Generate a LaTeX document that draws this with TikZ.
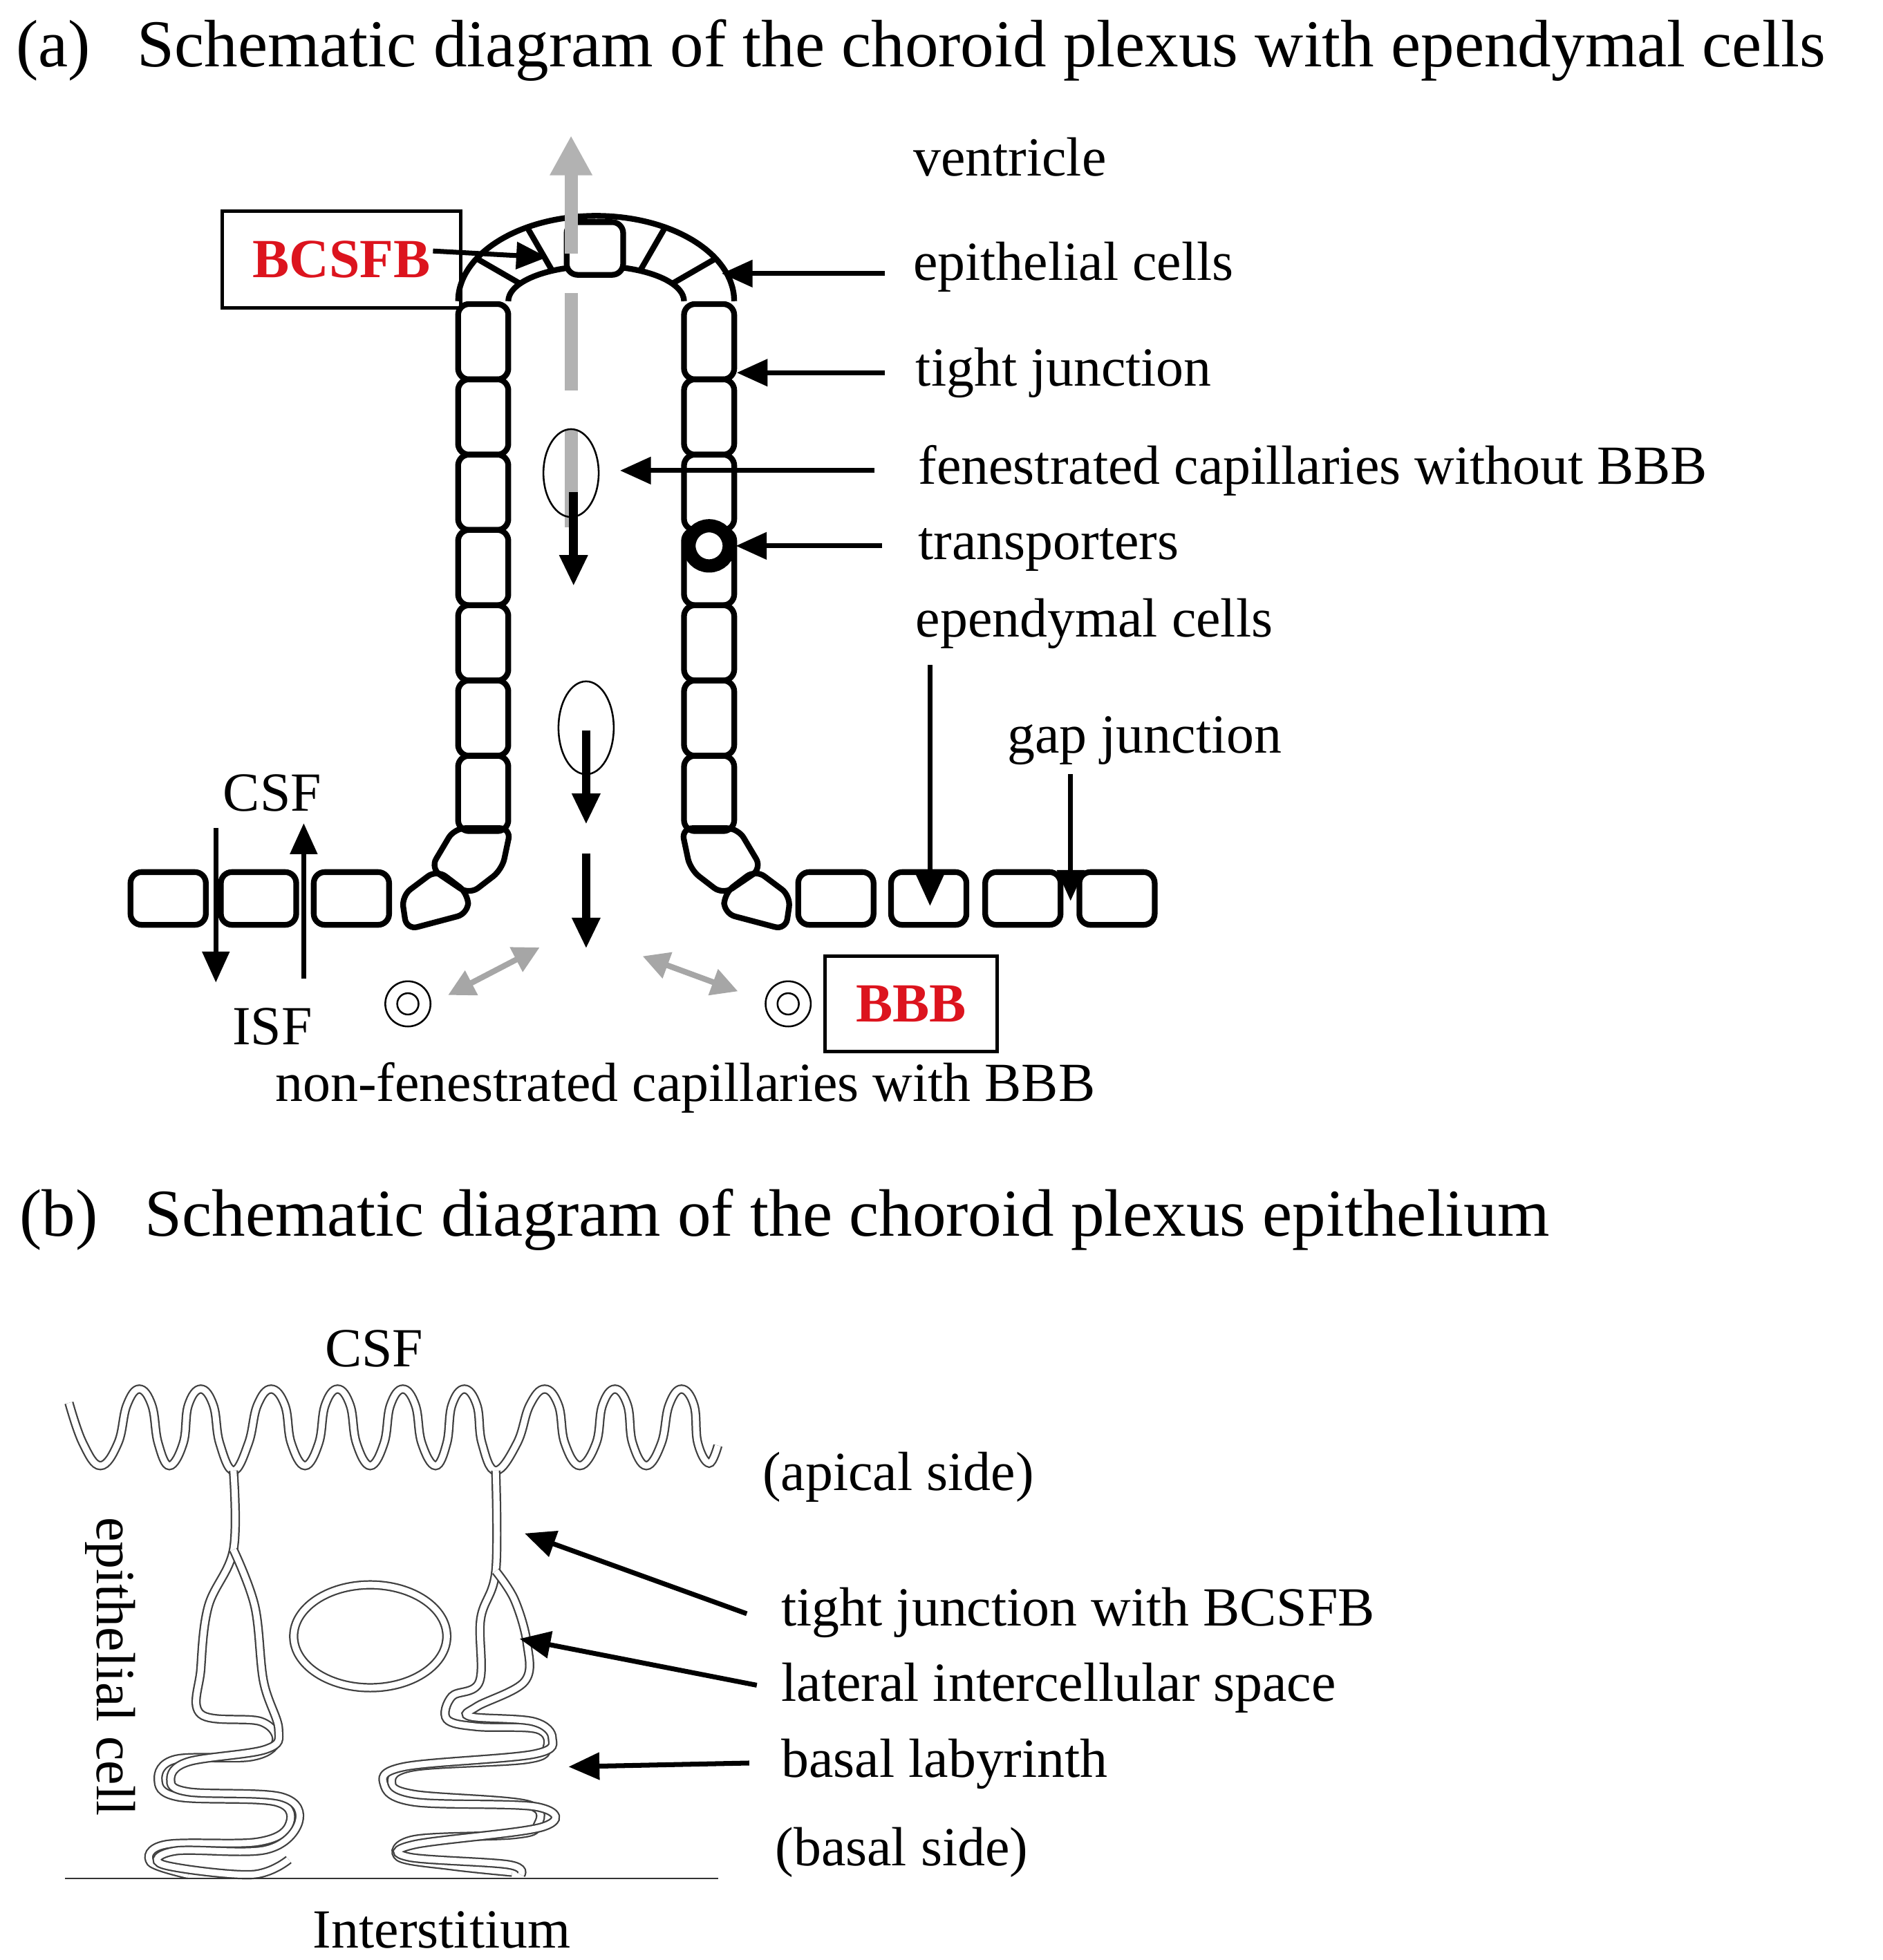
\documentclass[tikz,border=0pt]{standalone}
\usepackage{fontspec}
\setmainfont{Liberation Serif}
\usetikzlibrary{arrows.meta,positioning,shapes.geometric}
\definecolor{bred}{RGB}{220,20,30}
\tikzset{
  cell/.style={draw,line width=1.3pt,rounded corners=2.5pt},
  lab/.style={anchor=west,font=\fontsize{12.5}{14}\selectfont,inner sep=0pt},
  ttl/.style={anchor=west,font=\fontsize{15.2}{17}\selectfont,inner sep=0pt},
  arr/.style={-{Triangle[length=7pt,width=6pt]},line width=1.1pt},
  garr/.style={{Triangle[length=6pt,width=6pt]}-{Triangle[length=6pt,width=6pt]},line width=1.3pt,gray!70},
  memb/.style={draw=black!75,double=white,double distance=1.4pt,line width=0.35pt},
}
\begin{document}
\begin{tikzpicture}[x=0.01cm,y=-0.01cm]
\useasboundingbox (0,0) rectangle (1500,1562);

% (a) titles and labels
\node[ttl] (ta) at (12,40) {(a)\hspace{0.7em}Schematic diagram of the choroid plexus with ependymal cells};
\node[lab] (ventr) at (727,125) {ventricle};
\node[lab] (epi) at (727,213) {epithelial cells};
\node[lab] (tj) at (729,297) {tight junction};
\node[lab] (fen) at (731,375) {fenestrated capillaries without BBB};
\node[lab] (trans) at (731,438) {transporters};
\node[lab] (epend) at (729,497) {ependymal cells};
\node[lab] (gap) at (802,590) {gap junction};
\node[lab,anchor=center] (csf) at (217,632) {CSF};
\node[lab,anchor=center] (isf) at (217,818) {ISF};
\node[lab,anchor=center] (nonfen) at (546,867) {non-fenestrated capillaries with BBB};

% columns of cells
\foreach \i in {0,...,6}{
  \node[cell,minimum width=0.4cm,minimum height=0.6cm,anchor=north] (lc\i) at (385,240+\i*60) {};
  \node[cell,minimum width=0.4cm,minimum height=0.6cm,anchor=north] (rc\i) at (565,240+\i*60) {};
}
% arch
\draw[line width=1.3pt] plot[smooth,samples=40,domain=180:0] ({475+110*cos(\x)},{240-68*sin(\x)});
\draw[line width=1.3pt] plot[smooth,samples=40,domain=180:0] ({475+70*cos(\x)},{240-28*sin(\x)});
\foreach \a in {150,120,60,30}
  \draw[line width=1.3pt] ({475+70*cos(\a)},{240-28*sin(\a)}) -- ({475+110*cos(\a)},{240-68*sin(\a)});
\node[cell,fill=white,minimum width=0.45cm,minimum height=0.42cm] (topc) at (474,198) {};

% bends
\draw[cell] (362,660) -- (407,660) -- (400,693) -- (374,713) -- (343,692) -- cycle;
\draw[cell] (320,714) -- (348,693) -- (373,712) -- (373,728) -- (324,741) -- cycle;
\draw[cell] (588,660) -- (543,660) -- (550,693) -- (576,713) -- (607,692) -- cycle;
\draw[cell] (630,714) -- (602,693) -- (577,712) -- (577,728) -- (626,741) -- cycle;

% ground row
\foreach \x/\n in {134/g1,206/g2,280/g3,666/g4,740/g5,815/g6,890/g7}
  \node[cell,minimum width=0.6cm,minimum height=0.42cm] (\n) at (\x,716) {};

% transporter
\node[circle,draw,line width=3pt,minimum size=0.32cm,inner sep=0pt,fill=white] (tr) at (565,435) {};

% capillaries
\coordinate (gtop) at (455,108);
\coordinate (gbot) at (455,420);
\draw[-{Triangle[length=9pt,width=9pt]},gray!60,line width=3pt,dash pattern=on 22pt off 9pt] (gbot) -- (gtop);
\node[ellipse,draw,thin,minimum width=0.44cm,minimum height=0.7cm,inner sep=0pt] (fc1) at (455,377) {};
\node[ellipse,draw,thin,minimum width=0.44cm,minimum height=0.74cm,inner sep=0pt] (fc2) at (467,580) {};
\coordinate (f1a) at (457,392); \coordinate (f1b) at (457,467);
\coordinate (f2a) at (467,582); \coordinate (f2b) at (467,657);
\coordinate (f3a) at (467,680); \coordinate (f3b) at (467,756);
\draw[arr,line width=2pt] (f1a) -- (f1b);
\draw[arr,line width=2pt] (f2a) -- (f2b);
\draw[arr,line width=2pt] (f3a) -- (f3b);
\foreach \x/\n in {325/nc1,628/nc2}{
  \node[circle,draw,thin,minimum size=0.36cm,inner sep=0pt] (\n) at (\x,800) {};
  \node[circle,draw,thin,minimum size=0.17cm,inner sep=0pt] at (\x,800) {};
}
\coordinate (gl1) at (357,793); \coordinate (gl2) at (430,755);
\coordinate (gr1) at (512,762); \coordinate (gr2) at (588,790);
\draw[garr] (gl1) -- (gl2);
\draw[garr] (gr1) -- (gr2);

% CSF / ISF arrows
\coordinate (csfd1) at (172,660); \coordinate (csfd2) at (172,783);
\coordinate (isfu1) at (242,780); \coordinate (isfu2) at (242,656);
\draw[arr] (csfd1) -- (csfd2);
\draw[arr] (isfu1) -- (isfu2);

% boxes
\node[draw,thick,minimum width=1.9cm,minimum height=0.77cm,text=bred,font=\fontsize{12.5}{14}\selectfont\bfseries] (bcsfb) at (272,207) {BCSFB};
\node[draw,thick,minimum width=1.37cm,minimum height=0.76cm,text=bred,font=\fontsize{12.5}{14}\selectfont\bfseries] (bbb) at (726,800) {BBB};

% label arrows
\coordinate (bcS) at (345,200); \coordinate (jbc) at (436,205);
\draw[arr] (bcS) -- (jbc);
\coordinate (epiE) at (705,218); \coordinate (epiT) at (575,218);
\draw[arr] (epiE) -- (epiT);
\coordinate (tjE) at (705,297); \coordinate (tjT) at (587,297);
\draw[arr] (tjE) -- (tjT);
\coordinate (fenE) at (697,375); \coordinate (fenT) at (494,375);
\draw[arr] (fenE) -- (fenT);
\coordinate (trE) at (703,435);
\draw[arr] (trE) -- (tr.east);
\coordinate (epS) at (741,530); \coordinate (epT) at (741,722);
\draw[arr] (epS) -- (epT);
\coordinate (gpS) at (853,617); \coordinate (gpT) at (853,718);
\draw[arr] (gpS) -- (gpT);

% (b)
\node[ttl] (tb) at (15,972) {(b)\hspace{0.7em}Schematic diagram of the choroid plexus epithelium};
\node[lab,anchor=center] (csfb) at (298,1075) {CSF};
\node[lab] (apical) at (607,1177) {(apical side)};
\node[lab] (tjb) at (622,1285) {tight junction with BCSFB};
\node[lab] (lis) at (622,1345) {lateral intercellular space};
\node[lab] (bl) at (622,1406) {basal labyrinth};
\node[lab] (basal) at (617,1476) {(basal side)};
\node[lab,anchor=center] (inter) at (352,1538) {Interstitium};
\node[lab,anchor=center,rotate=-90] (epc) at (88,1328) {epithelial cell};

% apical microvilli
\draw[memb] plot[smooth,tension=0.7] coordinates {(55,1118) (66,1150) (80,1168) (94,1150)
  (101,1120) (111,1107) (121,1120) (126,1150) (135,1168) (146,1150) (150,1120) (160,1107) (170,1120) (175,1150)
  (186,1172) (198,1150) (205,1120) (216,1107) (227,1120) (232,1150) (243,1168) (254,1150) (259,1120) (269,1107)
  (279,1120) (284,1150) (295,1168) (306,1150) (311,1120) (321,1107) (331,1120) (336,1150) (347,1168)
  (356,1150) (360,1120) (370,1107) (380,1120) (384,1150) (395,1172) (412,1150) (422,1120) (434,1107)
  (445,1120) (450,1150) (462,1168) (475,1150) (480,1120) (490,1107) (500,1120) (504,1150) (515,1168)
  (527,1150) (533,1120) (543,1107) (553,1120) (556,1150) (565,1166) (572,1152)};
% left cell junction and labyrinth
\draw[memb] plot[smooth,tension=0.6] coordinates {(186,1172) (186,1235) (166,1280) (160,1330) (160,1366)
  (208,1372) (220,1388) (200,1400) (140,1402) (126,1418) (142,1432) (220,1436) (230,1455) (205,1468)
  (132,1470) (120,1484) (150,1494)};
\draw[memb] plot[smooth,tension=0.6] coordinates {(186,1235) (203,1280) (210,1340) (222,1378) (212,1394)
  (150,1404) (136,1418) (150,1428) (224,1432) (238,1452) (212,1474) (140,1475) (130,1486) (200,1494) (230,1482)};
% right cell junction and labyrinth
\draw[memb] plot[smooth,tension=0.6] coordinates {(395,1172) (395,1252) (383,1290) (382,1340)
  (360,1352) (356,1370) (380,1376) (428,1378) (436,1392) (420,1402) (330,1408) (312,1420) (330,1430)
  (420,1438) (428,1455) (410,1462) (330,1466) (318,1480) (360,1487) (408,1492)};
\draw[memb] plot[smooth,tension=0.6] coordinates {(395,1252) (410,1275) (420,1310) (418,1340) (380,1360)
  (375,1368) (425,1372) (440,1385) (425,1398) (322,1408) (306,1422) (330,1436) (428,1440) (432,1456) (330,1470)
  (326,1480) (405,1486) (415,1494)};
% nucleus
\draw[memb] (295,1304) ellipse [x radius=61, y radius=41];
% basement line
\coordinate (bas1) at (52,1497); \coordinate (bas2) at (572,1497);
\draw[black!80] (bas1) -- (bas2);

% (b) arrows
\coordinate (tjbE) at (595,1286); \coordinate (tjbT) at (418,1222);
\draw[arr] (tjbE) -- (tjbT);
\coordinate (lisE) at (603,1343); \coordinate (lisT) at (414,1306);
\draw[arr] (lisE) -- (lisT);
\coordinate (blE) at (597,1405); \coordinate (blT) at (453,1408);
\draw[arr] (blE) -- (blT);
\end{tikzpicture}
\end{document}
